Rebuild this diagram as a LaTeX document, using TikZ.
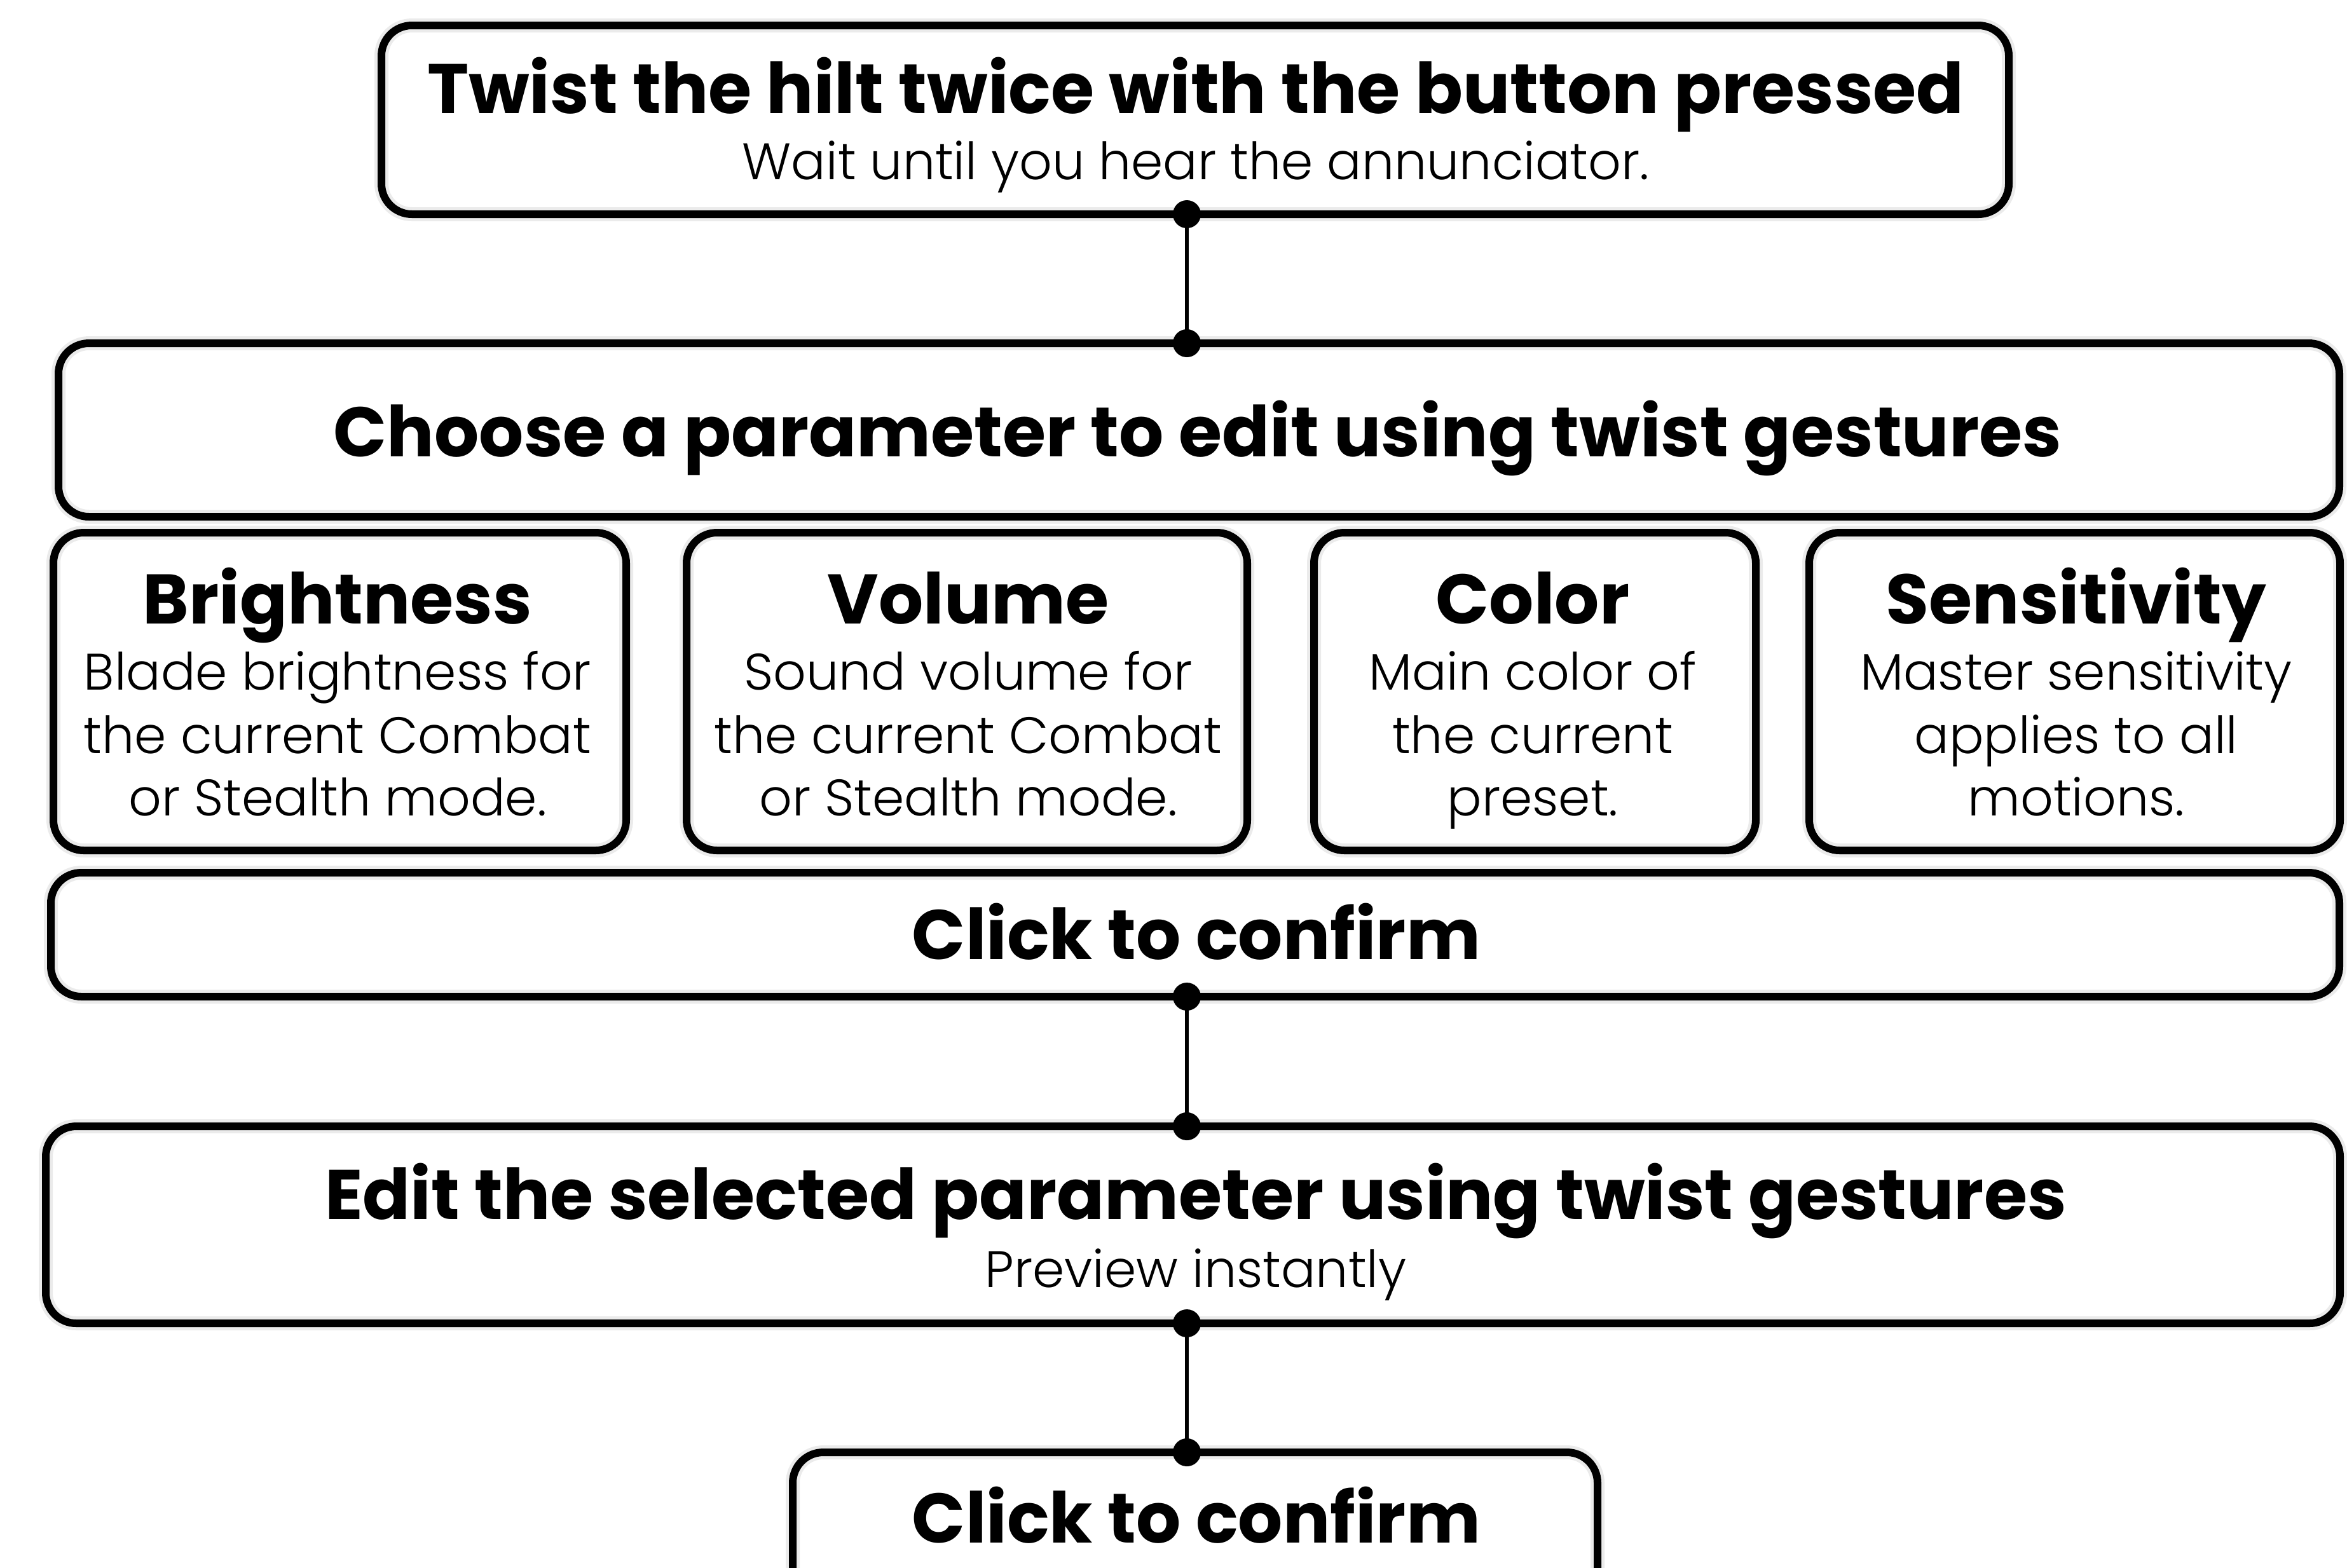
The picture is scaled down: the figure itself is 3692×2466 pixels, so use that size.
\documentclass[tikz,border=0pt]{standalone}
\usepackage{fontspec}
\setmainfont{Poppins}
\newfontfamily\lightfont{Poppins Light}
\usetikzlibrary{fit}
\begin{document}
\begin{tikzpicture}[x=0.25pt,y=-0.25pt,
  box/.style={draw, line width=3pt, rounded corners=12pt, inner sep=0pt, outer sep=0pt,
    preaction={draw=black!8, line width=5.5pt}},
  ttl/.style={font=\bfseries\fontsize{27.6}{32}\selectfont, anchor=base, inner sep=0pt},
  sub/.style={font=\lightfont\fontsize{20.2}{24}\selectfont, anchor=base, inner sep=0pt},
  conn/.style={line width=1.6pt},
  dot/.style={circle, fill=black, inner sep=0pt, minimum size=11pt}]
\useasboundingbox (0,0) rectangle (3692,2466);
\clip (0,0) rectangle (3692,2466);
% boxes
\node[box, fit={(600,40) (3160,337)}] (top) {};
\node[box, fit={(92,540) (3680,813)}] (choose) {};
\node[box, fit={(84,838) (985,1338)}] (bri) {};
\node[box, fit={(1080,838) (1962,1338)}] (vol) {};
\node[box, fit={(2067,838) (2762,1338)}] (col) {};
\node[box, fit={(2846,838) (3681,1338)}] (sen) {};
\node[box, fit={(80,1373) (3680,1568)}] (click1) {};
\node[box, fit={(72,1772) (3681,2082)}] (edit) {};
\node[box, fit={(1247,2285) (2513,2560)}] (click2) {};
% texts
\node[ttl] (t1) at (1881,178) {Twist the hilt twice with the button pressed};
\node[sub] (s1) at (1881,282) {Wait until you hear the annunciator.};
\node[ttl] (t2) at (1884,718) {Choose a parameter to edit using twist gestures};
\node[ttl] (tb) at (531,981) {Brightness};
\node[sub] (b1) at (531,1085) {Blade brightness for};
\node[sub] (b2) at (531,1185) {the current Combat};
\node[sub] (b3) at (531,1283) {or Stealth mode.};
\node[ttl] (tv) at (1523,981) {Volume};
\node[sub] (v1) at (1523,1085) {Sound volume for};
\node[sub] (v2) at (1523,1185) {the current Combat};
\node[sub] (v3) at (1523,1283) {or Stealth mode.};
\node[ttl] (tc) at (2411,981) {Color};
\node[sub] (c1) at (2411,1085) {Main color of};
\node[sub] (c2) at (2411,1185) {the current};
\node[sub] (c3) at (2411,1283) {preset.};
\node[ttl] (ts) at (3266,981) {Sensitivity};
\node[sub] (e1) at (3266,1085) {Master sensitivity};
\node[sub] (e2) at (3266,1185) {applies to all};
\node[sub] (e3) at (3266,1283) {motions.};
\node[ttl] (t3) at (1882,1509) {Click to confirm};
\node[ttl] (t4) at (1881,1918) {Edit the selected parameter using twist gestures};
\node[sub] (s4) at (1881,2025) {Preview instantly};
\node[ttl] (t5) at (1882,2427) {Click to confirm};
% connectors
\coordinate (cx) at (1867,0);
\draw[conn] (top.south -| cx) -- (choose.north -| cx);
\draw[conn] (click1.south -| cx) -- (edit.north -| cx);
\draw[conn] (edit.south -| cx) -- (click2.north -| cx);
\node[dot] (d1) at (top.south -| cx) {};
\node[dot] (d2) at (choose.north -| cx) {};
\node[dot] (d3) at (click1.south -| cx) {};
\node[dot] (d4) at (edit.north -| cx) {};
\node[dot] (d5) at (edit.south -| cx) {};
\node[dot] (d6) at (click2.north -| cx) {};
\end{tikzpicture}
\end{document}
